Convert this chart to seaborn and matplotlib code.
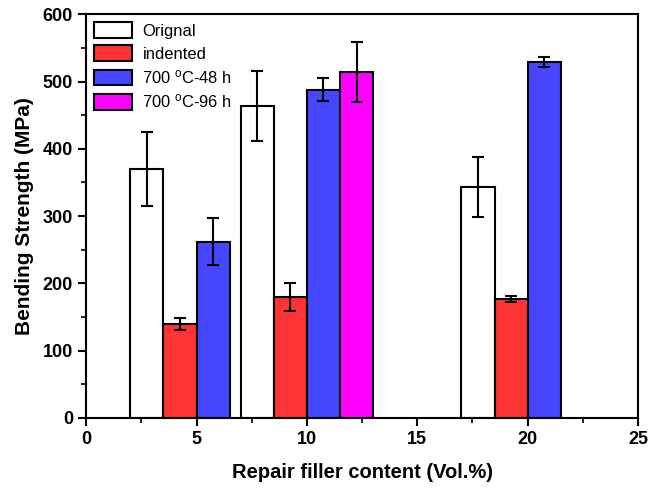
import numpy as np
import pandas as pd
import matplotlib
matplotlib.use("Agg")
import matplotlib.pyplot as plt
import seaborn as sns
from matplotlib.ticker import MultipleLocator

content = [5, 10, 20]
orignal = [370, 463, 343]
orignal_err = [55, 52, 45]
indented = [140, 180, 177]
indented_err = [9, 21, 4]
h48 = [262, 488, 529]
h48_err = [35, 17, 8]
h96_content = [10]
h96 = [514]
h96_err = [45]

labels = ["Orignal", "indented", "700 $\\mathregular{^oC}$-48 h", "700 $\\mathregular{^oC}$-96 h"]
colors = ["white", "#ff3333", "#4646ff", "#ff00ff"]
offsets = [-2.25, -0.75, 0.75, 2.25]

rows = []
series = [(content, orignal, orignal_err),
          (content, indented, indented_err),
          (content, h48, h48_err),
          (h96_content, h96, h96_err)]
for i, (xs, ys, es) in enumerate(series):
    for x, y, e in zip(xs, ys, es):
        rows.append({"pos": x + offsets[i], "val": y, "err": e, "group": labels[i]})
df = pd.DataFrame(rows)

sns.set_style("ticks")
plt.rcParams["font.family"] = ["Liberation Sans", "DejaVu Sans"]
plt.rcParams["mathtext.fontset"] = "custom"
plt.rcParams["mathtext.rm"] = "Liberation Sans"
for key in ["text.color", "axes.labelcolor", "xtick.color", "ytick.color", "axes.edgecolor"]:
    plt.rcParams[key] = "black"

fig = plt.figure(figsize=(6.53, 4.9), dpi=100)
ax = fig.add_axes([0.132, 0.147, 0.845, 0.824])

sns.barplot(data=df, x="pos", y="val", hue="group", hue_order=labels,
            palette=colors, native_scale=True, dodge=False, width=1.0,
            edgecolor="black", linewidth=1.5, saturation=1, errorbar=None, ax=ax)

ax.errorbar(df["pos"], df["val"], yerr=df["err"], fmt="none", ecolor="black",
            elinewidth=1.5, capsize=4, capthick=1.5)

ax.set_xlim(0, 25)
ax.set_ylim(0, 600)
ax.xaxis.set_major_locator(MultipleLocator(5))
ax.xaxis.set_minor_locator(MultipleLocator(2.5))
ax.yaxis.set_major_locator(MultipleLocator(100))
ax.yaxis.set_minor_locator(MultipleLocator(50))
ax.tick_params(which="major", direction="out", length=6, width=1.5, labelsize=13)
ax.tick_params(which="minor", direction="out", length=3.5, width=1.2)
for lab in ax.get_xticklabels() + ax.get_yticklabels():
    lab.set_fontweight("bold")
for sp in ax.spines.values():
    sp.set_visible(True)
    sp.set_linewidth(1.5)
    sp.set_color("black")

ax.set_xlabel("Repair filler content (Vol.%)", fontsize=14.5, fontweight="bold", labelpad=11)
ax.set_ylabel("Bending Strength (MPa)", fontsize=15, fontweight="bold", labelpad=6)

leg = ax.legend(loc="upper left", frameon=False, fontsize=11.9, handlelength=2.3,
                handleheight=1.1, labelspacing=0.38, borderaxespad=0.3,
                borderpad=0.2, handletextpad=0.6)
for h in leg.legend_handles:
    h.set_edgecolor("black")
    h.set_linewidth(1.5)

fig.savefig("out.png", dpi=100)
